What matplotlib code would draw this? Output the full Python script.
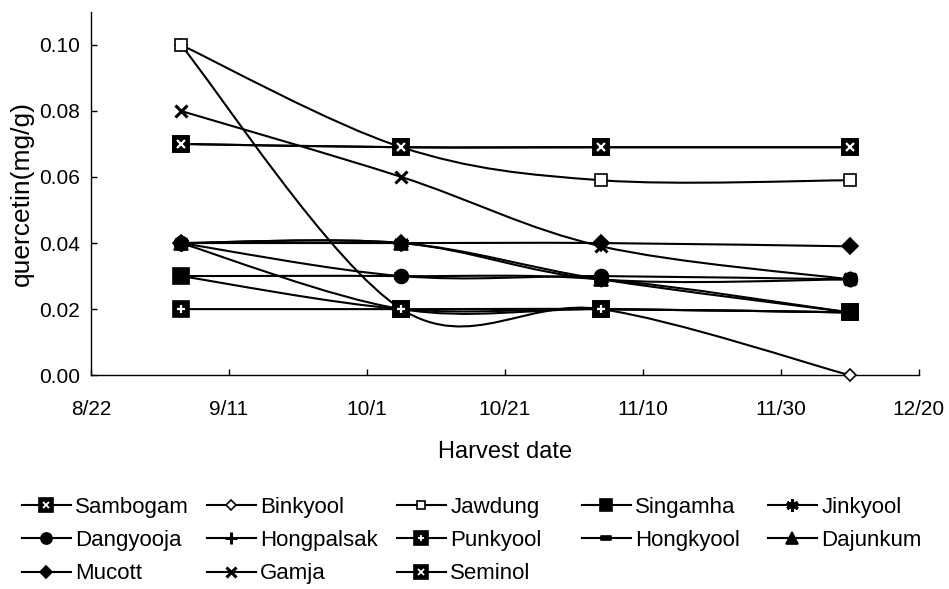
import matplotlib
matplotlib.use('Agg')
import numpy as np
import matplotlib.pyplot as plt
import matplotlib.dates as mdates
from matplotlib.path import Path
from matplotlib.patches import PathPatch
from matplotlib.lines import Line2D
from matplotlib.ticker import FuncFormatter

plt.rcParams['font.family'] = ['Liberation Sans', 'DejaVu Sans']

# harvest dates and quercetin content (mg/g) of each cultivar
harvest_dates = ['2000-09-04', '2000-10-06', '2000-11-04', '2000-12-10']

sambogam = [0.070, 0.069, 0.069, 0.069]
binkyool = [0.100, 0.020, 0.020, 0.000]
jawdung = [0.100, 0.069, 0.059, 0.059]
singamha = [0.030, 0.020, 0.020, 0.019]
jinkyool = [0.040, 0.040, 0.029, 0.029]
dangyooja = [0.040, 0.030, 0.030, 0.029]
hongpalsak = [0.040, 0.020, 0.020, 0.019]
punkyool = [0.020, 0.020, 0.020, 0.019]
hongkyool = [0.030, 0.030, 0.029, 0.019]
dajunkum = [0.040, 0.040, 0.029, 0.019]
mucott = [0.040, 0.040, 0.040, 0.039]
gamja = [0.080, 0.060, 0.039, 0.029]
seminol = [0.070, 0.069, 0.069, 0.069]

names = ['Sambogam', 'Binkyool', 'Jawdung', 'Singamha', 'Jinkyool',
         'Dangyooja', 'Hongpalsak', 'Punkyool', 'Hongkyool', 'Dajunkum',
         'Mucott', 'Gamja', 'Seminol']
series = [sambogam, binkyool, jawdung, singamha, jinkyool,
          dangyooja, hongpalsak, punkyool, hongkyool, dajunkum,
          mucott, gamja, seminol]

x_start = '2000-08-22'
x_end = '2000-12-20'
y_ticks = [0.00, 0.02, 0.04, 0.06, 0.08, 0.10]

# flat rectangle marker for Hongkyool
bar_marker = Path([(-1, -0.45), (1, -0.45), (1, 0.45), (-1, 0.45), (-1, -0.45)],
                  [Path.MOVETO, Path.LINETO, Path.LINETO, Path.LINETO, Path.CLOSEPOLY])

# marker, size, face colour, white symbol drawn on top
marker_styles = [
    ('s', 12, 'black', 'x'),
    ('D', 6, 'white', None),
    ('s', 8, 'white', None),
    ('s', 11, 'black', None),
    ((6, 2, 0), 11, 'black', None),
    ('o', 10, 'black', None),
    ('+', 11, 'black', None),
    ('s', 12, 'black', '+'),
    (bar_marker, 9, 'black', None),
    ('^', 10, 'black', None),
    ('D', 8, 'black', None),
    ('x', 9, 'black', None),
    ('s', 12, 'black', 'x'),
]


def smooth_path(x, y):
    # Catmull-Rom style bezier through the points (like a spreadsheet "smoothed line")
    pts = np.column_stack([x, y])
    n = len(pts)
    verts = [pts[0]]
    codes = [Path.MOVETO]
    for i in range(n - 1):
        p0 = pts[max(i - 1, 0)]
        p1 = pts[i]
        p2 = pts[i + 1]
        p3 = pts[min(i + 2, n - 1)]
        verts += [p1 + (p2 - p0) / 6, p2 - (p3 - p1) / 6, p2]
        codes += [Path.CURVE4] * 3
    return Path(verts, codes)


fig = plt.figure(figsize=(9.49, 5.89), dpi=100)
ax = fig.add_axes([0.096, 0.363, 0.872, 0.617])

x = mdates.datestr2num(harvest_dates)
handles = []
for i, (name, vals) in enumerate(zip(names, series)):
    marker, ms, face, inner = marker_styles[i]
    mew = 2.2 if marker in ('+', 'x') or isinstance(marker, tuple) else 1.2
    ax.add_patch(PathPatch(smooth_path(x, vals), facecolor='none',
                           edgecolor='black', lw=1.5, zorder=2 + i * 0.1))
    ax.plot(x, vals, linestyle='none', marker=marker, ms=ms, mfc=face,
            mec='black', mew=mew, zorder=5 + i * 0.1, clip_on=False)
    h = Line2D([], [], color='black', lw=1.5, marker=marker, ms=ms * 0.8,
               mfc=face, mec='black', mew=mew)
    if inner:
        ax.plot(x, vals, linestyle='none', marker=inner, ms=ms * 0.5,
                mec='white', mew=1.6, zorder=5.05 + i * 0.1, clip_on=False)
        h2 = Line2D([], [], linestyle='none', marker=inner, ms=ms * 0.4,
                    mec='white', mew=1.3)
        h = (h, h2)
    handles.append(h)

x0 = mdates.datestr2num(x_start)
x1 = mdates.datestr2num(x_end)
ax.set_xlim(x0, x1)
ax.set_ylim(0, 0.11)
ax.set_xticks(np.arange(x0, x1 + 1, 20))
ax.xaxis.set_major_formatter(FuncFormatter(
    lambda v, pos: f"{mdates.num2date(v).month}/{mdates.num2date(v).day}"))
ax.set_yticks(y_ticks)
ax.yaxis.set_major_formatter(FuncFormatter(lambda v, pos: f"{v:.2f}"))

for side in ('top', 'right'):
    ax.spines[side].set_visible(False)
for side in ('left', 'bottom'):
    ax.spines[side].set_linewidth(1.0)
ax.tick_params(direction='in', length=4, width=1, labelsize=15)
ax.tick_params(axis='x', pad=18)
ax.tick_params(axis='y', pad=8)

ax.set_xlabel('Harvest date', fontsize=17, labelpad=16)
ax.set_ylabel('quercetin(mg/g)', fontsize=19, labelpad=4)

# five legend columns below the chart, filled row by row
col_x = [22, 207, 397, 582, 768]
for c in range(5):
    fig.legend(handles=handles[c::5], labels=names[c::5], loc='upper left',
               bbox_to_anchor=(col_x[c] / 949, 1 - 497 / 589),
               frameon=False, fontsize=16, handlelength=2.2,
               handletextpad=0.2, labelspacing=0.55,
               borderpad=0, borderaxespad=0)

fig.savefig('out.png', dpi=100)
